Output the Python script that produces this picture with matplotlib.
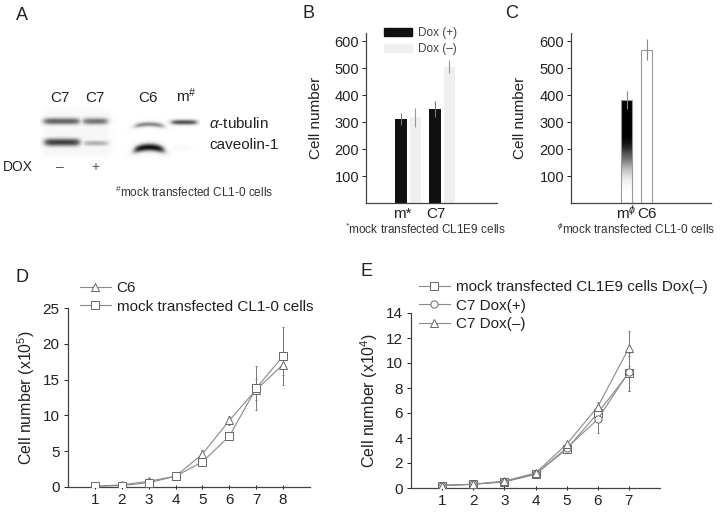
import numpy as np
import matplotlib
matplotlib.use('Agg')
import matplotlib.pyplot as plt
from matplotlib.patches import Patch

plt.rcParams['font.family'] = ['Liberation Sans', 'DejaVu Sans']
plt.rcParams['mathtext.fontset'] = 'custom'
plt.rcParams['mathtext.rm'] = 'Liberation Sans'
plt.rcParams['mathtext.it'] = 'Liberation Sans:italic'
plt.rcParams['mathtext.sf'] = 'Liberation Sans'

W, H = 720, 512
txt = '#222222'
grey = '#8a8a8a'

# ---- data ----
# panel A blot: lane labels and band intensities
lanes = ['C7', 'C7', 'C6', 'm$^{\\#}$']
dox = ['\u2013', '+']
tub_int = [0.72, 0.66, 0.58, 0.80]
cav_int = [0.85, 0.45, 1.00, 0.06]

# panel B
b_groups = ['m*', 'C7']
b_plus = [311, 348]
b_plus_err = [22, 30]
b_minus = [318, 505]
b_minus_err = [35, 25]

# panel C
c_groups = ['m$^{\\phi}$', 'C6']
c_vals = [381, 568]
c_err = [34, 38]

# panel D
d_days = [1, 2, 3, 4, 5, 6, 7, 8]
d_c6 = [0.1, 0.3, 0.8, 1.5, 4.6, 9.3, 13.6, 17.1]
d_c6_err = [0, 0, 0.2, 0, 0.6, 0.6, 1.5, 1.4]
d_mock = [0.1, 0.2, 0.6, 1.5, 3.5, 7.1, 13.8, 18.3]
d_mock_err = [0, 0, 0, 0, 0.3, 0.4, 3.1, 4.0]

# panel E
e_days = [1, 2, 3, 4, 5, 6, 7]
e_mock = [0.2, 0.3, 0.5, 1.1, 3.1, 6.0, 9.2]
e_mock_err = [0, 0, 0, 0, 0.1, 0.4, 1.4]
e_dp = [0.2, 0.3, 0.5, 1.1, 3.2, 5.5, 9.3]
e_dp_err = [0, 0, 0, 0, 0.1, 1.1, 1.5]
e_dm = [0.2, 0.3, 0.55, 1.2, 3.5, 6.5, 11.2]
e_dm_err = [0, 0, 0, 0, 0.1, 0.4, 1.4]


def rect(l, t, r, b):
    return [l / W, 1 - b / H, (r - l) / W, (b - t) / H]


fig = plt.figure(figsize=(7.2, 5.12), dpi=100)

# ---------------- panel A ----------------
axA = fig.add_axes(rect(0, 0, 240, 230))
axA.axis('off')

xs = np.arange(40, 200, 0.5)
ys = np.arange(105, 162, 0.5)
X, Y = np.meshgrid(xs, ys)


def sig(z):
    return 1 / (1 + np.exp(-z))


def band(x0, x1, yc, amp, sy, curve=0.0):
    xm = (x0 + x1) / 2
    hw = (x1 - x0) / 2
    u = (X - xm) / hw
    box = sig((X - x0) / 2.0) * sig((x1 - X) / 2.0)
    return amp * box * np.exp(-((Y - yc - curve * u ** 2) / sy) ** 2)


dark = 0.07 * sig((X - 43) / 1.5) * sig((110 - X) / 1.5) * sig((Y - 110) / 1.5) * sig((157 - Y) / 1.5)
tub_pos = [(43, 80, 121, 4.0, 0), (82, 108, 121, 4.0, 0), (134, 164, 124, 2.8, 2), (171, 197, 122, 2.8, 0)]
cav_pos = [(44, 80, 142, 4.5, 0), (83, 108, 143, 3.2, 0), (134, 164, 147, 4.2, 3), (173, 190, 148, 3, 0)]
for (x0, x1, yc, sy, cv), a in zip(tub_pos, tub_int):
    dark = np.maximum(dark, band(x0, x1, yc, a, sy, cv))
for (x0, x1, yc, sy, cv), a in zip(cav_pos, cav_int):
    dark = np.maximum(dark, band(x0, x1, yc, a, sy, cv))
axA.imshow(dark, cmap='Greys', vmin=0, vmax=1.05, extent=[40, 200, 162, 105],
           interpolation='bilinear', aspect='auto')
axA.set_xlim(0, 240)
axA.set_ylim(230, 0)

axA.text(22, 15, 'A', fontsize=13, color=txt, ha='center', va='center')
for xl, lab in zip([60, 95, 148, 186], lanes):
    axA.text(xl, 102, lab, fontsize=11, color=txt, ha='center', va='baseline')
axA.text(209, 123, '$\\alpha$-tubulin', fontsize=11, color=txt, va='center')
axA.text(209, 145, 'caveolin-1', fontsize=11, color=txt, va='center')
axA.text(3, 167, 'DOX', fontsize=10, color=txt, va='center')
for xl, lab in zip([60, 95], dox):
    axA.text(xl, 167, lab, fontsize=10, color='#555555', ha='center', va='center')
axA.text(194, 192, '$^{\\#}$mock transfected CL1-0 cells', fontsize=8.5, color='#333333',
         ha='center', va='center')

# ---------------- panel B ----------------
axB = fig.add_axes(rect(366, 33, 497, 203))
xb = np.arange(1, len(b_groups) + 1)
axB.bar(xb - 0.2, b_plus, width=0.36, color='#111111', zorder=2)
axB.bar(xb + 0.22, b_minus, width=0.3, color='#efefef', zorder=2)
axB.errorbar(xb - 0.2, b_plus, yerr=b_plus_err, fmt='none', ecolor='#777777', elinewidth=0.8, capsize=0, zorder=3)
axB.errorbar(xb + 0.22, b_minus, yerr=b_minus_err, fmt='none', ecolor='#999999', elinewidth=0.8, capsize=0, zorder=3)
axB.set_xlim(-0.235, 3.62)
axB.set_ylim(0, 630)
axB.set_yticks([100, 200, 300, 400, 500, 600])
axB.set_xticks([])
for xp, lab in zip(xb - 0.17, b_groups):
    axB.text(xp, -0.09, lab, transform=axB.get_xaxis_transform(), fontsize=11, color=txt,
             ha='center', va='baseline')
axB.tick_params(axis='y', length=3, width=0.7, labelsize=10.5, colors=txt, pad=2)
for s in ['top', 'right']:
    axB.spines[s].set_visible(False)
for s in ['left', 'bottom']:
    axB.spines[s].set_color('#444444')
    axB.spines[s].set_linewidth(0.9)
axB.set_ylabel('Cell number', fontsize=11, color=txt, labelpad=8)
axB.legend(handles=[Patch(color='#111111', label='Dox (+)'), Patch(color='#efefef', label='Dox (\u2013)')],
           loc='upper left', bbox_to_anchor=(384 / W, 1 - 27 / H), bbox_transform=fig.transFigure,
           frameon=False, fontsize=8.5, handlelength=2.4, handleheight=0.7, handletextpad=0.5,
           labelspacing=0.35, borderpad=0, borderaxespad=0, labelcolor='#444444')
fig.text(425 / W, 1 - 229 / H, '$^{*}$mock transfected CL1E9 cells', fontsize=8.5, color='#333333',
         ha='center', va='center')
fig.text(308 / W, 1 - 13 / H, 'B', fontsize=13, color=txt, ha='center', va='center')

# ---------------- panel C ----------------
axC = fig.add_axes(rect(571, 33, 711, 203))
xc = np.arange(1, len(c_groups) + 1)
bw = 0.55
# gradient fill for the first bar, open bar for the second
f = np.linspace(0, 1, 200)[:, None]
shade = np.clip((f - 0.08) / 0.6, 0, 1)
shade = shade * shade * (3 - 2 * shade)
axC.imshow(shade, cmap='Greys', vmin=0, vmax=1, origin='lower', aspect='auto',
           extent=[xc[0] - bw / 2, xc[0] + bw / 2, 0, c_vals[0]], zorder=2)
axC.bar(xc, c_vals, width=bw, facecolor='none', edgecolor='#999999', linewidth=0.8, zorder=3)
axC.errorbar(xc, c_vals, yerr=c_err, fmt='none', ecolor='#888888', elinewidth=0.8, capsize=0, zorder=3)
axC.set_xlim(-1.775, 5.225)
axC.set_ylim(0, 630)
axC.set_yticks([100, 200, 300, 400, 500, 600])
axC.set_xticks([])
for xp, lab in zip(xc, c_groups):
    axC.text(xp, -0.09, lab, transform=axC.get_xaxis_transform(), fontsize=11, color=txt,
             ha='center', va='baseline')
axC.tick_params(axis='y', length=3, width=0.7, labelsize=10.5, colors=txt, pad=2)
for s in ['top', 'right']:
    axC.spines[s].set_visible(False)
for s in ['left', 'bottom']:
    axC.spines[s].set_color('#444444')
    axC.spines[s].set_linewidth(0.9)
axC.set_ylabel('Cell number', fontsize=11, color=txt, labelpad=9)
fig.text(636 / W, 1 - 229 / H, '$^{\\phi}$mock transfected CL1-0 cells', fontsize=8.5, color='#333333',
         ha='center', va='center')
fig.text(512 / W, 1 - 14 / H, 'C', fontsize=13, color=txt, ha='center', va='center')


# ---------------- growth curves ----------------
def style_growth(ax):
    for s in ['top', 'right']:
        ax.spines[s].set_visible(False)
    for s in ['left', 'bottom']:
        ax.spines[s].set_color('#444444')
        ax.spines[s].set_linewidth(0.9)
    ax.tick_params(axis='both', length=3, width=0.7, labelsize=11, colors=txt, pad=3)
    ax.tick_params(axis='x', direction='inout')


mk = dict(color=grey, lw=0.8, mfc='white', mec='#666666', mew=0.7, ms=5.2, zorder=3)
ek = dict(ecolor='#777777', elinewidth=0.7, capsize=1, capthick=0.7, zorder=2)
leg = dict(bbox_transform=fig.transFigure, frameon=False, fontsize=11, handlelength=2.0,
           handletextpad=0.4, labelspacing=0.3, borderpad=0, borderaxespad=0, labelcolor=txt)

axD = fig.add_axes(rect(68, 308, 310, 487))
axD.errorbar(d_days, d_c6, yerr=d_c6_err, fmt='none', **ek)
axD.errorbar(d_days, d_mock, yerr=d_mock_err, fmt='none', **ek)
lD1, = axD.plot(d_days, d_c6, marker='^', label='C6', **mk)
lD2, = axD.plot(d_days, d_mock, marker='s', label='mock transfected CL1-0 cells', **mk)
axD.set_xlim(0, 9)
axD.set_ylim(0, 25)
axD.set_xticks(d_days)
axD.set_yticks([0, 5, 10, 15, 20, 25])
style_growth(axD)
axD.set_ylabel('Cell number (x10$^5$)', fontsize=11.5, color=txt, labelpad=4)
axD.legend(handles=[lD1, lD2], loc='upper left', bbox_to_anchor=(80 / W, 1 - 281 / H), **leg)
fig.text(22 / W, 1 - 277 / H, 'D', fontsize=13, color=txt, ha='center', va='center')

axE = fig.add_axes(rect(411, 313, 660, 488))
axE.errorbar(e_days, e_mock, yerr=e_mock_err, fmt='none', **ek)
axE.errorbar(e_days, e_dp, yerr=e_dp_err, fmt='none', **ek)
axE.errorbar(e_days, e_dm, yerr=e_dm_err, fmt='none', **ek)
lE1, = axE.plot(e_days, e_mock, marker='s', label='mock transfected CL1E9 cells Dox(\u2013)', **mk)
lE2, = axE.plot(e_days, e_dp, marker='o', label='C7 Dox(+)', **mk)
lE3, = axE.plot(e_days, e_dm, marker='^', label='C7 Dox(\u2013)', **mk)
axE.set_xlim(0, 8)
axE.set_ylim(0, 14)
axE.set_xticks(e_days)
axE.set_yticks([0, 2, 4, 6, 8, 10, 12, 14])
style_growth(axE)
axE.set_ylabel('Cell number (x10$^4$)', fontsize=11.5, color=txt, labelpad=4)
axE.legend(handles=[lE1, lE2, lE3], loc='upper left', bbox_to_anchor=(419 / W, 1 - 280 / H), **leg)
fig.text(367 / W, 1 - 272 / H, 'E', fontsize=13, color=txt, ha='center', va='center')

fig.savefig('out.png', dpi=100)
